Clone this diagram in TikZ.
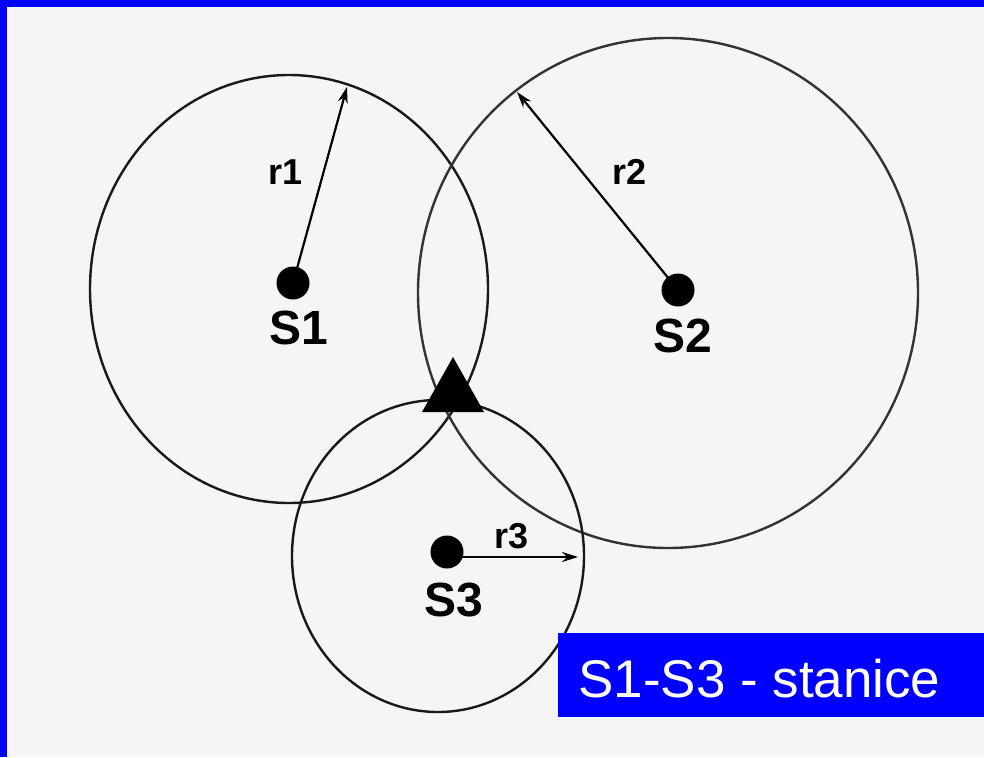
\documentclass[tikz,border=0pt]{standalone}
\usepackage{fontspec}
\setmainfont{Liberation Sans}
\usetikzlibrary{arrows.meta}
\definecolor{paper}{RGB}{245,245,245}
\definecolor{pureblue}{RGB}{0,0,255}
\tikzset{
  ring/.style={draw=black!90, line width=2.4pt},
  station/.style={circle, fill=black, inner sep=0pt, minimum size=33pt},
  slabel/.style={font=\fontsize{48}{50}\selectfont\bfseries, inner sep=0pt},
  rlabel/.style={font=\fontsize{36}{38}\selectfont\bfseries, inner sep=0pt},
  radius arrow/.style={draw=black, line width=2.2pt, -{Stealth[length=16pt,width=10pt]}},
}
\begin{document}
\begin{tikzpicture}[x=1pt,y=-1pt]
  % page and border
  \fill[paper] (0,0) rectangle (984,757);
  \useasboundingbox (0,0) rectangle (984,757);
  \fill[pureblue] (0,0) rectangle (984,7);
  \fill[pureblue] (0,0) rectangle (7,757);

  % circles
  \draw[ring] (289,289) ellipse [x radius=199pt, y radius=214pt];
  \draw[ring, draw=black!80] (668,293) ellipse [x radius=250pt, y radius=255pt];
  \draw[ring] (438,556) ellipse [x radius=146pt, y radius=156pt];

  % stations
  \node[station] (s1) at (293,283) {};
  \node[station] (s2) at (678,290) {};
  \node[station] (s3) at (447,552) {};

  \node[slabel] (l1) at (299,328) {S1};
  \node[slabel] (l2) at (683,336) {S2};
  \node[slabel] (l3) at (454,600) {S3};

  % radius arrows
  \coordinate (t1) at (347,87);
  \coordinate (t2) at (517,92);
  \coordinate (t3) at (578,557);
  \coordinate (b3) at (460,557);
  \draw[radius arrow] (s1.center) -- (t1);
  \draw[radius arrow] (s2.center) -- (t2);
  \draw[radius arrow] (b3) -- (t3);

  \node[rlabel] (r1) at (286,172) {r1};
  \node[rlabel] (r2) at (630,172) {r2};
  \node[rlabel] (r3) at (512,536) {r3};

  % receiver
  \fill[black] (422,412) -- (453,357) -- (484,412) -- cycle;

  % legend
  \fill[pureblue] (558,633) rectangle (984,717);
  \node[anchor=base west, inner sep=0pt, text=white,
        font=\fontsize{53}{56}\selectfont] (legend) at (578,697) {S1-S3 - stanice};
\end{tikzpicture}
\end{document}
